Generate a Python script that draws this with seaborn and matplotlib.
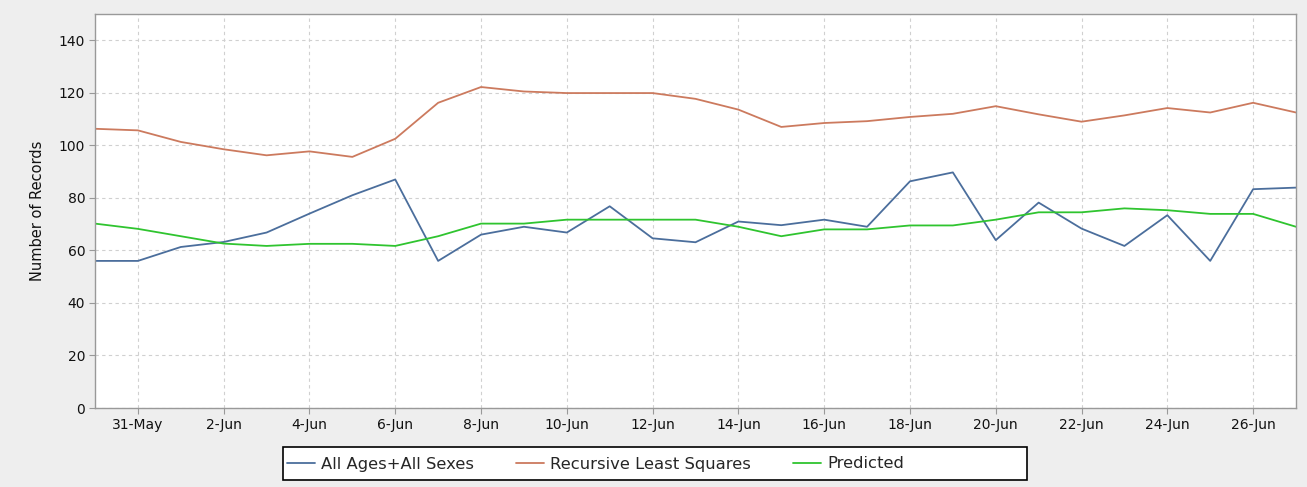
import numpy as np
import pandas as pd
import matplotlib
matplotlib.use("Agg")
import matplotlib.pyplot as plt
import matplotlib.patches as mpatches
import seaborn as sns

sns.set_theme(style="white")
plt.rcParams['font.family'] = ['DejaVu Sans']

# -----------------------------
# Data
# -----------------------------
dates = pd.date_range("2020-05-30", "2020-06-27", freq="D")

all_ages = [56, 56, 61.3, 63.2, 66.8, 74, 81, 87, 56, 66, 69,
            66.8, 76.8, 64.6, 63.1, 71, 69.6, 71.7, 69, 86.3, 89.7,
            63.9, 78.2, 68.3, 61.7, 73.4, 56, 83.3, 83.9]
rls = [106.3, 105.7, 101.3, 98.5, 96.2, 97.7, 95.6, 102.5, 116.2, 122.2, 120.5,
       119.9, 119.9, 119.9, 117.7, 113.6, 107, 108.5, 109.2, 110.8, 112,
       114.9, 111.8, 109, 111.4, 114.2, 112.5, 116.2, 112.5]
predicted = [70.2, 68.2, 65.4, 62.6, 61.7, 62.5, 62.5, 61.7, 65.4, 70.2, 70.2,
             71.7, 71.7, 71.7, 71.7, 69, 65.4, 68, 68, 69.5, 69.5,
             71.7, 74.5, 74.5, 76, 75.3, 73.9, 73.9, 69]

series_names = ["All Ages+All Sexes", "Recursive Least Squares", "Predicted"]
colors = ["#4b6e9c", "#cc7a5e", "#2fc42f"]

df = pd.DataFrame({"Date": dates,
                   series_names[0]: all_ages,
                   series_names[1]: rls,
                   series_names[2]: predicted})
long_df = df.melt(id_vars="Date", var_name="Series", value_name="Records")

# -----------------------------
# Plot
# -----------------------------
W, H = 1307, 487
fig = plt.figure(figsize=(W / 100, H / 100), dpi=100, facecolor="#eeeeee")
ax = fig.add_axes([95 / W, 1 - 408 / H, (1296 - 95) / W, (408 - 14) / H])
ax.set_facecolor("white")

sns.lineplot(data=long_df, x="Date", y="Records", hue="Series",
             palette=dict(zip(series_names, colors)), linewidth=1.3, ax=ax, legend=False)

ax.set_xlim(dates[0], dates[-1])
ax.set_ylim(0, 150)
ax.set_yticks(np.arange(0, 141, 20))
tick_dates = dates[1::2]
ax.set_xticks(tick_dates)
ax.set_xticklabels([f"{d.day}-{d.strftime('%b')}" for d in tick_dates])

ax.grid(True, color="#d0d0d0", linestyle=(0, (3, 3)), linewidth=0.8)
for s in ax.spines.values():
    s.set_color("#999999")
    s.set_linewidth(1.0)
ax.tick_params(axis="both", which="both", direction="out", length=4, width=0.8,
               color="#999999", labelsize=10, labelcolor="#111111",
               bottom=True, left=True, pad=3)
ax.set_xlabel("")
ax.set_ylabel("Number of Records", fontsize=10.5, color="#111111", labelpad=10)

# legend box (drawn separately so it spans like the original)
fig.patches.append(mpatches.Rectangle((283 / W, 1 - 480 / H), (1027 - 283) / W, 33 / H,
                                      transform=fig.transFigure, facecolor="white",
                                      edgecolor="black", linewidth=1.2, zorder=1))
handles = [plt.Line2D([], [], color=c, lw=1.3) for c in colors]
leg = fig.legend(handles, series_names, loc="center left", ncol=3,
                 bbox_to_anchor=(287 / W, 1 - 464 / H),
                 frameon=False, fontsize=11.8, handlelength=1.7,
                 handletextpad=0.35, columnspacing=2.6, borderpad=0, borderaxespad=0)
leg.set_zorder(2)

fig.savefig("out.png", dpi=100, facecolor=fig.get_facecolor())
